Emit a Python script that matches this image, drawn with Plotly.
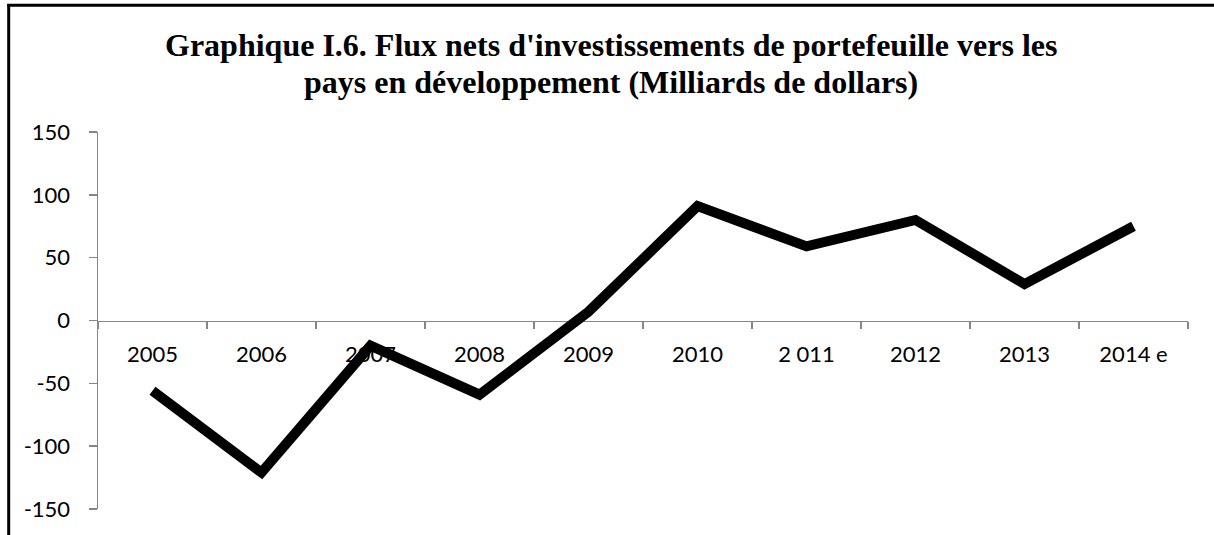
import plotly.graph_objects as go

categories = ["2005", "2006", "2007", "2008", "2009", "2010", "2 011", "2012", "2013", "2014 e"]
values = [-56, -121, -20, -59, 7, 91, 59, 80, 29, 75]
y_ticks = [-150, -100, -50, 0, 50, 100, 150]
y_tick_text = ["-150", "-100", "-50", "0", "50", "100", "150"]

title_line1 = "Graphique I.6. Flux nets d'investissements de portefeuille vers les"
title_line2 = "pays en développement (Milliards de dollars)"

W, H = 1214, 535
L, R, T, B = 98, 26, 132, 26
ph = H - T - B
pw = W - L - R

def py(pix):
    return (H - B - pix) / ph

def px(pix):
    return (pix - L) / pw

fig = go.Figure()
fig.add_trace(go.Scatter(
    x=categories, y=values, mode="lines",
    line=dict(color="black", width=10),
    hoverinfo="skip", showlegend=False,
))

axis_gray = "#868686"
fig.update_layout(
    width=W, height=H,
    margin=dict(l=L, r=R, t=T, b=B),
    paper_bgcolor="white", plot_bgcolor="white",
    font=dict(family="Lato", size=22, color="black"),
    xaxis=dict(
        type="category", range=[-0.5, 9.5],
        anchor="free", position=0.5,
        showline=True, linecolor=axis_gray, linewidth=1.5,
        ticks="outside", ticklen=7, tickcolor=axis_gray, tickwidth=1.5,
        tickson="boundaries", showgrid=False, zeroline=False,
        ticklabelstandoff=14, layer="below traces",
    ),
    yaxis=dict(
        range=[-150, 150], tickvals=y_ticks, ticktext=y_tick_text,
        showline=True, linecolor=axis_gray, linewidth=1.5,
        ticks="outside", ticklen=8, tickcolor=axis_gray, tickwidth=1.5,
        showgrid=False, zeroline=False, ticklabelstandoff=14,
        layer="below traces",
    ),
    shapes=[
        dict(type="line", xref="paper", yref="paper", x0=px(8.7), x1=px(8.7), y0=py(4), y1=-0.3,
             line=dict(color="black", width=3)),
        dict(type="line", xref="paper", yref="paper", x0=px(7.2), x1=1.3, y0=py(5.3), y1=py(5.3),
             line=dict(color="black", width=3)),
    ],
    annotations=[
        dict(text="<b>" + title_line1 + "</b>", xref="paper", yref="paper", x=px(611), y=py(45),
             xanchor="center", yanchor="middle", showarrow=False,
             font=dict(family="Liberation Serif", size=32, color="black")),
        dict(text="<b>" + title_line2 + "</b>", xref="paper", yref="paper", x=px(611), y=py(82),
             xanchor="center", yanchor="middle", showarrow=False,
             font=dict(family="Liberation Serif", size=32, color="black")),
    ],
)

fig.write_html(
    "out.html",
    config={"displayModeBar": False, "staticPlot": True},
    post_script="document.body.style.margin='0';document.body.style.overflow='hidden';",
)
